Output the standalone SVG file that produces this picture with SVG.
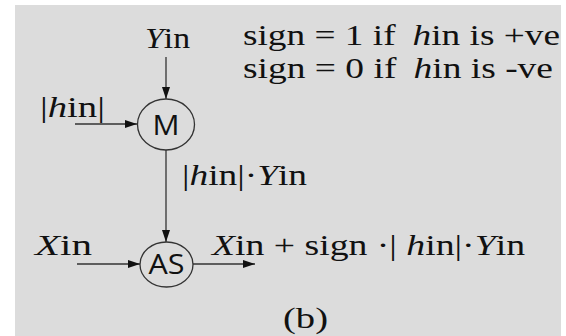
<svg xmlns="http://www.w3.org/2000/svg" width="566" height="336" viewBox="0 0 566 336">
<style>
.t{font-family:"Liberation Serif","Times New Roman",serif;font-size:29px;fill:#111}
.i{font-style:italic}
.n{font-family:"Open Sans","DejaVu Sans",sans-serif;fill:#111;text-anchor:middle}
.c{fill:none;stroke:#333;stroke-width:1.3}
.l{fill:none;stroke:#333;stroke-width:1.3}
</style>
<defs>
<marker id="ah" markerUnits="userSpaceOnUse" markerWidth="13" markerHeight="9" refX="12" refY="4" orient="auto">
<path d="M0,0 L12,4 L0,8 z" fill="#111"/>
</marker>
</defs>
<rect x="15" y="5" width="546" height="331" fill="#dcdcdc"/>
<g id="connectors">
<path class="l" d="M166,57 L166,99" marker-end="url(#ah)"/>
<path class="l" d="M75,124 L137,124" marker-end="url(#ah)"/>
<path class="l" d="M166,150 L166,242" marker-end="url(#ah)"/>
<path class="l" d="M77,264 L140,264" marker-end="url(#ah)"/>
<path class="l" d="M193,264 L255,264" marker-end="url(#ah)"/>
</g>
<g id="node-M">
<ellipse class="c" cx="166" cy="124.5" rx="28.5" ry="25.5"/>
<text class="n" x="166" y="134.5" font-size="28" textLength="27" lengthAdjust="spacingAndGlyphs">M</text>
</g>
<g id="node-AS">
<ellipse class="c" cx="166.5" cy="264.5" rx="26.5" ry="22.5"/>
<text class="n" x="166.5" y="273.5" font-size="27" textLength="36" lengthAdjust="spacingAndGlyphs">AS</text>
</g>
<g id="labels">
<text class="t" x="145" y="48" textLength="45" lengthAdjust="spacingAndGlyphs"><tspan class="i">Y</tspan>in</text>
<text class="t" x="243" y="45" textLength="317" lengthAdjust="spacingAndGlyphs">sign = 1 if <tspan class="i" dx="6">h</tspan>in is +ve</text>
<text class="t" x="243" y="78" textLength="310" lengthAdjust="spacingAndGlyphs">sign = 0 if <tspan class="i" dx="6">h</tspan>in is -ve</text>
<text class="t" x="40" y="117" textLength="65" lengthAdjust="spacingAndGlyphs">|<tspan class="i">h</tspan>in|</text>
<text class="t" x="182" y="185" textLength="125" lengthAdjust="spacingAndGlyphs">|<tspan class="i">h</tspan>in|·<tspan class="i">Y</tspan>in</text>
<text class="t" x="35" y="255" textLength="57" lengthAdjust="spacingAndGlyphs"><tspan class="i">X</tspan>in</text>
<text class="t" x="212" y="255" textLength="313" lengthAdjust="spacingAndGlyphs"><tspan class="i">X</tspan>in + sign ·| <tspan class="i">h</tspan>in|·<tspan class="i">Y</tspan>in</text>
<text class="t" x="283" y="328" textLength="45" lengthAdjust="spacingAndGlyphs">(b)</text>
</g>
</svg>
